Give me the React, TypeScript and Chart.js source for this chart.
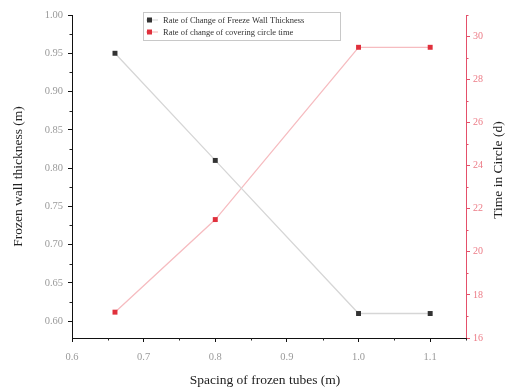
import React, { useEffect, useRef } from "react";
import { Chart, registerables } from "chart.js";

Chart.register(...registerables);

const spacing = [0.66, 0.8, 1.0, 1.1];
const wallThickness = [0.95, 0.81, 0.61, 0.61];
const circleTime = [17.2, 21.5, 29.5, 29.5];

const xTicks = [0.6, 0.7, 0.8, 0.9, 1.0, 1.1];
const xMinor = [0.65, 0.75, 0.85, 0.95, 1.05, 1.15];
const yTicks = [0.6, 0.65, 0.7, 0.75, 0.8, 0.85, 0.9, 0.95, 1.0];
const yMinor = [0.625, 0.675, 0.725, 0.775, 0.825, 0.875, 0.925, 0.975];
const y1Ticks = [16, 18, 20, 22, 24, 26, 28, 30];
const y1Minor = [17, 19, 21, 23, 25, 27, 29, 31];

const seriesNames = [
  "Rate of Change of Freeze Wall Thickness",
  "Rate of change of covering circle time",
];
const xTitle = "Spacing of frozen tubes (m)";
const yTitle = "Frozen wall thickness (m)";
const y1Title = "Time in Circle (d)";

const BLACK = "#333333";
const RED = "#e0303c";
const AXIS_RED = "#e4506a";
const SERIF = "'Liberation Serif', 'DejaVu Serif', serif";

const overlay = {
  id: "overlay",
  afterDraw(chart: any) {
    const ctx = chart.ctx;
    const xs = chart.scales.x;
    const ys = chart.scales.y;
    const y1 = chart.scales.y1;
    const area = chart.chartArea;
    ctx.save();
    ctx.lineWidth = 1;
    ctx.strokeStyle = "#222";
    xMinor.forEach((v) => {
      const px = Math.round(xs.getPixelForValue(v)) + 0.5;
      ctx.beginPath();
      ctx.moveTo(px, area.bottom);
      ctx.lineTo(px, area.bottom + 2.5);
      ctx.stroke();
    });
    yMinor.forEach((v) => {
      const py = Math.round(ys.getPixelForValue(v)) + 0.5;
      ctx.beginPath();
      ctx.moveTo(area.left, py);
      ctx.lineTo(area.left - 2.5, py);
      ctx.stroke();
    });
    ctx.strokeStyle = AXIS_RED;
    y1Minor.forEach((v) => {
      const py = Math.round(y1.getPixelForValue(v)) + 0.5;
      ctx.beginPath();
      ctx.moveTo(area.right, py);
      ctx.lineTo(area.right + 2.5, py);
      ctx.stroke();
    });

    ctx.fillStyle = "#222";
    ctx.font = `13.5px ${SERIF}`;
    ctx.textAlign = "center";
    ctx.textBaseline = "middle";
    ctx.fillText(xTitle, (area.left + area.right) / 2 - 4, 380);
    ctx.save();
    ctx.translate(18, (area.top + area.bottom) / 2);
    ctx.rotate(-Math.PI / 2);
    ctx.fillText(yTitle, 0, 0);
    ctx.restore();
    ctx.save();
    ctx.translate(498, 170);
    ctx.rotate(-Math.PI / 2);
    ctx.fillText(y1Title, 0, 0);
    ctx.restore();

    const bx = 143, by = 12, bw = 197, bh = 28;
    ctx.fillStyle = "#ffffff";
    ctx.fillRect(bx, by, bw, bh);
    ctx.strokeStyle = "#c8c8c8";
    ctx.lineWidth = 1;
    ctx.strokeRect(bx + 0.5, by + 0.5, bw, bh);
    const rows = [
      { name: seriesNames[0], color: BLACK, line: "#cfcfcf", y: by + 8 },
      { name: seriesNames[1], color: RED, line: "#f3b0b0", y: by + 20 },
    ];
    ctx.font = `8.5px ${SERIF}`;
    ctx.textAlign = "left";
    rows.forEach((r) => {
      ctx.strokeStyle = r.line;
      ctx.beginPath();
      ctx.moveTo(bx + 3, r.y);
      ctx.lineTo(bx + 15, r.y);
      ctx.stroke();
      ctx.fillStyle = r.color;
      ctx.fillRect(bx + 4, r.y - 2.5, 5, 5);
      ctx.fillStyle = "#333";
      ctx.fillText(r.name, bx + 20, r.y + 0.5);
    });
    ctx.restore();
  },
};

export default function App() {
  const ref = useRef<HTMLCanvasElement | null>(null);
  useEffect(() => {
    if (!ref.current) return;
    const chart = new Chart(ref.current, {
      type: "scatter",
      data: {
        datasets: [
          {
            label: seriesNames[0],
            data: spacing.map((x, i) => ({ x, y: wallThickness[i] })),
            yAxisID: "y",
            showLine: true,
            borderColor: "#d6d6d6",
            borderWidth: 1.3,
            backgroundColor: BLACK,
            pointStyle: "rect",
            pointRadius: 3.5,
            pointBorderWidth: 0,
            pointBackgroundColor: BLACK,
          },
          {
            label: seriesNames[1],
            data: spacing.map((x, i) => ({ x, y: circleTime[i] })),
            yAxisID: "y1",
            showLine: true,
            borderColor: "#f6bcc0",
            borderWidth: 1.3,
            backgroundColor: RED,
            pointStyle: "rect",
            pointRadius: 3.5,
            pointBorderWidth: 0,
            pointBackgroundColor: RED,
          },
        ],
      },
      options: {
        responsive: false,
        animation: false,
        layout: { padding: { top: 15, left: 0, right: 0, bottom: 0 } },
        plugins: { legend: { display: false }, tooltip: { enabled: false } },
        scales: {
          x: {
            type: "linear",
            min: 0.6,
            max: 1.15,
            afterBuildTicks: (s: any) => {
              s.ticks = xTicks.map((v) => ({ value: v }));
            },
            afterFit: (s: any) => {
              s.height = 49;
            },
            border: { display: true, color: "#111", width: 1 },
            grid: { drawOnChartArea: false, drawTicks: true, tickLength: 4, color: "#111" },
            ticks: {
              color: "#9a9a9a",
              font: { family: SERIF, size: 10.5 },
              padding: 9,
              maxRotation: 0,
              autoSkip: false,
              callback: (v: any) => Number(v).toFixed(1),
            },
          },
          y: {
            type: "linear",
            position: "left",
            min: 0.578,
            max: 1.0,
            afterBuildTicks: (s: any) => {
              s.ticks = yTicks.map((v) => ({ value: v }));
            },
            afterFit: (s: any) => {
              s.width = 72;
            },
            border: { display: true, color: "#111", width: 1 },
            grid: { drawOnChartArea: false, drawTicks: true, tickLength: 4, color: "#111" },
            ticks: {
              color: "#9a9a9a",
              font: { family: SERIF, size: 10.5 },
              padding: 5,
              autoSkip: false,
              callback: (v: any) => Number(v).toFixed(2),
            },
          },
          y1: {
            type: "linear",
            position: "right",
            min: 16,
            max: 31,
            afterBuildTicks: (s: any) => {
              s.ticks = y1Ticks.map((v) => ({ value: v }));
            },
            afterFit: (s: any) => {
              s.width = 39;
            },
            border: { display: true, color: AXIS_RED, width: 1 },
            grid: { drawOnChartArea: false, drawTicks: true, tickLength: 4, color: AXIS_RED },
            ticks: {
              color: "#ec7b86",
              font: { family: SERIF, size: 10 },
              padding: 3,
              autoSkip: false,
              callback: (v: any) => String(v),
            },
          },
        },
      },
      plugins: [overlay],
    } as any);
    return () => chart.destroy();
  }, []);
  return (
    <div style={{ position: "fixed", left: 0, top: 0, width: 505, height: 387, background: "#fff" }}>
      <canvas ref={ref} width={505} height={387} style={{ width: 505, height: 387, display: "block" }} />
    </div>
  );
}
